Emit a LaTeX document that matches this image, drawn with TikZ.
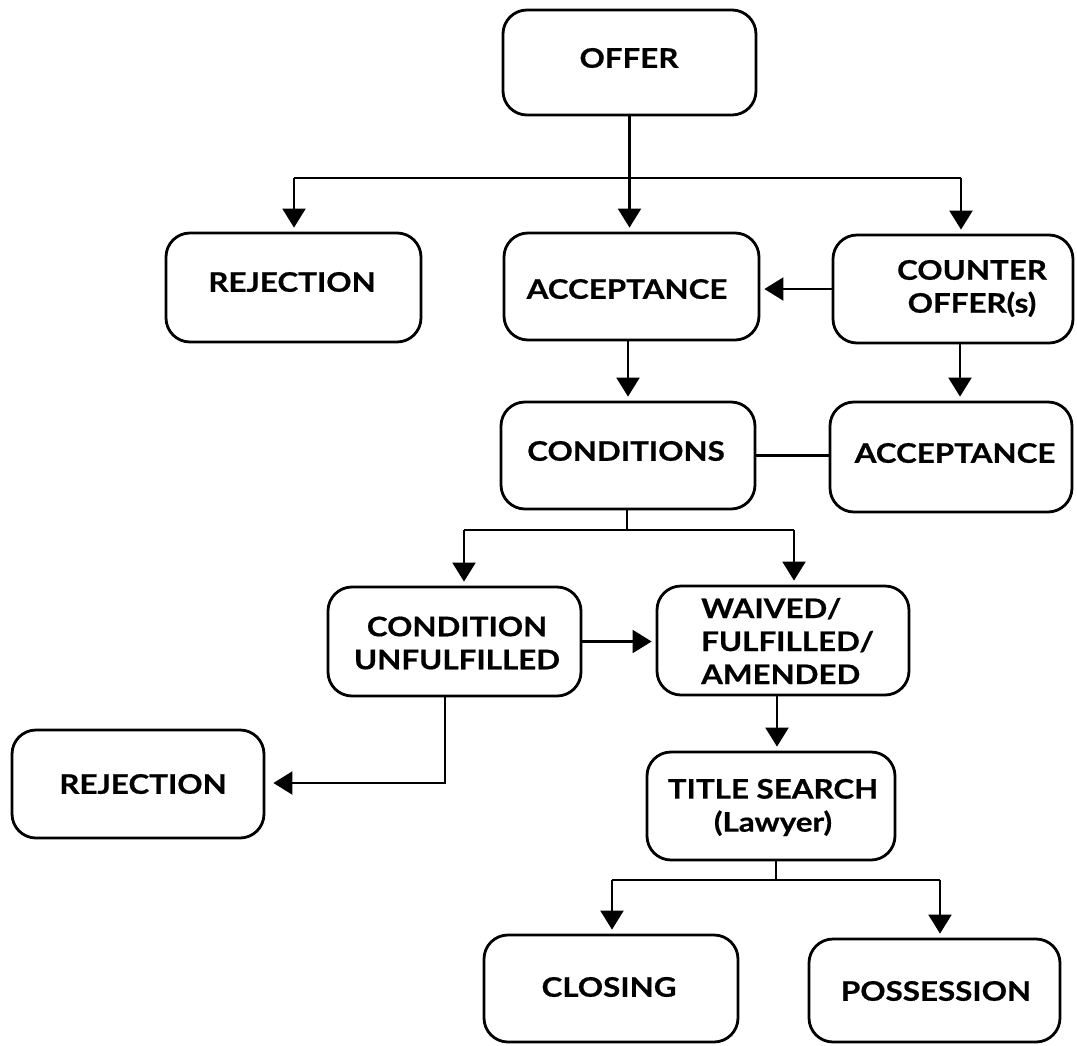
\documentclass[tikz,border=0pt]{standalone}
\usepackage{fontspec}
\newfontfamily\lblfont{Lato}[BoldFeatures={FakeStretch=1.16,FakeBold=0.6}]
\usetikzlibrary{arrows.meta}
\begin{document}
\begin{tikzpicture}[x=1pt,y=-1pt,
  box/.style={draw, line width=2.8pt, rounded corners=24pt, inner sep=0pt},
  lbl/.style={inner sep=0pt, align=center, font=\lblfont\bfseries\fontsize{27}{33}\selectfont},
  conn/.style={line width=2.2pt},
  arr/.style={line width=2.2pt, -{Triangle[width=23pt,length=19pt]}, shorten >=4pt}
]
\useasboundingbox (0,0) rectangle (1077,1045);
% boxes
\node[box, minimum width=253pt, minimum height=105pt] (offer) at (629.5,62.5) {};
\node[box, minimum width=255pt, minimum height=109pt] (rej1) at (293.5,287.5) {};
\node[box, minimum width=255pt, minimum height=107pt] (acc1) at (631.5,286.5) {};
\node[box, minimum width=240pt, minimum height=108pt] (counter) at (953,289) {};
\node[box, minimum width=254pt, minimum height=107pt] (cond) at (628,455.5) {};
\node[box, minimum width=242pt, minimum height=110pt] (acc2) at (951,457) {};
\node[box, minimum width=253pt, minimum height=109pt] (cu) at (454.5,641.5) {};
\node[box, minimum width=252pt, minimum height=109pt] (waived) at (783,640.5) {};
\node[box, minimum width=252pt, minimum height=108pt] (rej2) at (138,784) {};
\node[box, minimum width=248pt, minimum height=108pt] (title) at (771,806) {};
\node[box, minimum width=254pt, minimum height=107pt] (closing) at (611,988.5) {};
\node[box, minimum width=251pt, minimum height=103pt] (poss) at (934.5,990.5) {};
% texts
\node[lbl] (offer-t) at (629,58) {OFFER};
\node[lbl] (rej1-t) at (292,282) {REJECTION};
\node[lbl] (acc1-t) at (627,289) {ACCEPTANCE};
\node[lbl] (counter-t) at (972,288.5) {COUNTER\\OFFER(s)};
\node[lbl] (cond-t) at (626,451) {CONDITIONS};
\node[lbl] (acc2-t) at (955,453) {ACCEPTANCE};
\node[lbl] (cu-t) at (457,643) {CONDITION\\UNFULFILLED};
\node[lbl, align=left, anchor=west] (waived-t) at (701,641) {WAIVED/\\FULFILLED/\\AMENDED};
\node[lbl] (rej2-t) at (143,784) {REJECTION};
\node[lbl] (title-t) at (773,807.5) {TITLE SEARCH\\(Lawyer)};
\node[lbl] (closing-t) at (609,987) {CLOSING};
\node[lbl] (poss-t) at (936,991) {POSSESSION};
% junction coordinates
\coordinate (jL) at (294,178);
\coordinate (jR) at (961,178);
\coordinate (c2) at (960,0);
\coordinate (k) at (627,530);
\coordinate (kL) at (464,530);
\coordinate (kR) at (794,530);
\coordinate (m) at (445,783);
\coordinate (w) at (777,0);
\coordinate (t) at (776,880);
\coordinate (tL) at (612,880);
\coordinate (tR) at (940,880);
% connectors
\draw[arr] (offer.south) -- (offer.south |- acc1.north);
\draw[conn] (jL) -- (jR);
\draw[arr] (jL) -- (jL |- rej1.north);
\draw[arr] (jR) -- (jR |- counter.north);
\draw[arr] (counter.west) -- (counter.west -| acc1.east);
\draw[arr] (cond.north |- acc1.south) -- (cond.north);
\draw[arr] (c2 |- counter.south) -- (c2 |- acc2.north);
\draw[conn] (cond.east) -- (cond.east -| acc2.west);
\draw[conn] (k |- cond.south) -- (k);
\draw[conn] (kL) -- (kR);
\draw[arr] (kL) -- (kL |- cu.north);
\draw[arr] (kR) -- (kR |- waived.north);
\draw[arr] (cu.east) -- (cu.east -| waived.west);
\draw[arr, shorten >=8pt] (m |- cu.south) -- (m) -- (m -| rej2.east);
\draw[arr] (w |- waived.south) -- (w |- title.north);
\draw[conn] (t |- title.south) -- (t);
\draw[conn] (tL) -- (tR);
\draw[arr] (tL) -- (tL |- closing.north);
\draw[arr] (tR) -- (tR |- poss.north);
\end{tikzpicture}
\end{document}
